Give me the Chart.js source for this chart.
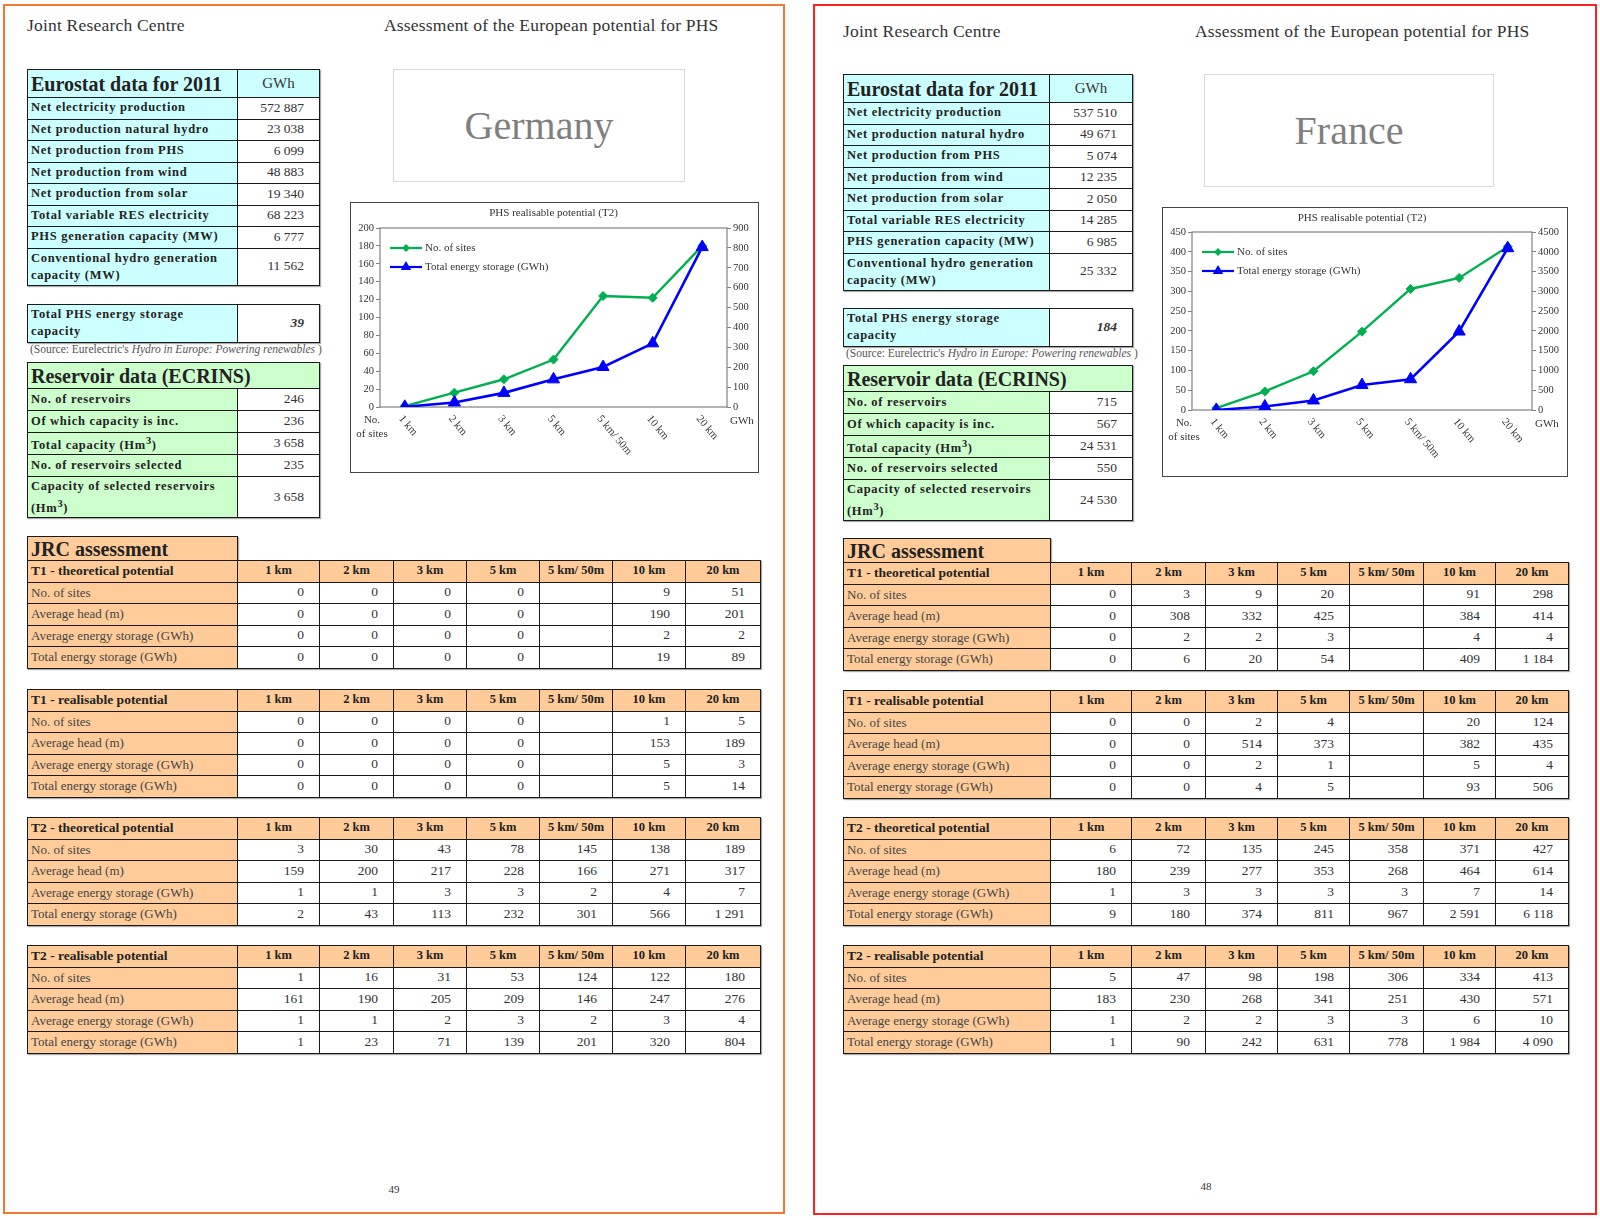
<!DOCTYPE html>
<html lang="en">
<head>
<meta charset="UTF-8">
<title>Assessment of the European potential for PHS - Germany / France</title>
<script src="https://cdn.jsdelivr.net/npm/chart.js@4.4.0/dist/chart.umd.min.js"></script>
<style>
body {
    margin: 0;
    width: 1600px;
    height: 1220px;
    position: relative;
    overflow: hidden;
    background: #fff;
    font-family: "Liberation Serif", "DejaVu Serif", serif;
    color: #222;
}
.frame { position: absolute; box-sizing: border-box; }
.txt { position: absolute; white-space: nowrap; }
.runhead { font-size: 17.5px; color: #333; letter-spacing: 0.2px; }
.pageno { font-size: 11px; color: #333; transform: translateX(-50%); }
.source { font-size: 11.5px; color: #555; }
.country {
    position: absolute; box-sizing: border-box;
    border: 1px solid #d8d8d8;
    display: flex; align-items: center; justify-content: center;
    font-size: 40px; color: #7f7f7f;
}
.chartbox { position: absolute; box-sizing: border-box; border: 1px solid #444; background: #fff; }
.chartbox canvas { display: block; }

table {
    position: absolute;
    border-collapse: collapse;
    table-layout: fixed;
    box-shadow: 1px 1px 1px #aaa;
}
td {
    border: 1.5px solid #1a1a1a;
    padding: 0 3px;
    overflow: hidden;
    white-space: nowrap;
    line-height: 1.1;
}
.cy { background: #ccffff; }
.gr { background: #ccffcc; }
.or { background: #ffcc99; }
.h-euro { font-weight: bold; font-size: 20px; }
.unit { text-align: center; font-size: 15px; color: #333; }
.lab-b { font-weight: bold; font-size: 12.5px; letter-spacing: 0.7px; }
.wrap { white-space: normal; line-height: 17px; vertical-align: top; padding-top: 1px; }
.val { text-align: right; padding-right: 15px; font-size: 13.5px; color: #333; }
.h-big { font-weight: bold; font-size: 20px; }
.lab-hdr { font-weight: bold; font-size: 13.5px; }
.colhdr { font-weight: bold; font-size: 12.5px; text-align: center; padding: 0; }
.lab-n { font-size: 13px; color: #444; }
</style>
</head>
<body>

<script>
// ---- shared labels ----
const kmCats = ['1 km', '2 km', '3 km', '5 km', '5 km/ 50m', '10 km', '20 km'];
const eurostatLabels = [
    'Net electricity production',
    'Net production natural hydro',
    'Net production from PHS',
    'Net production from wind',
    'Net production from solar',
    'Total variable RES electricity',
    'PHS generation capacity (MW)',
    'Conventional hydro generation<br>capacity (MW)'
];
const reservoirLabels = [
    'No. of reservoirs',
    'Of which capacity is inc.',
    'Total capacity (Hm<sup>3</sup>)',
    'No. of reservoirs selected',
    'Capacity of selected reservoirs<br>(Hm<sup>3</sup>)'
];
const jrcTableNames = ['T1 - theoretical potential', 'T1 - realisable potential',
    'T2 - theoretical potential', 'T2 - realisable potential'];
const jrcRowLabels = ['No. of sites', 'Average head (m)',
    'Average energy storage (GWh)', 'Total energy storage (GWh)'];
const seriesNames = ['No. of sites', 'Total energy storage (GWh)'];

// ---- Germany ----
const deEurostat = ['572 887', '23 038', '6 099', '48 883', '19 340', '68 223', '6 777', '11 562'];
const dePhsStorage = '39';
const deReservoir = ['246', '236', '3 658', '235', '3 658'];
const deT1Theo = [
    ['0', '0', '0', '0', '', '9', '51'],
    ['0', '0', '0', '0', '', '190', '201'],
    ['0', '0', '0', '0', '', '2', '2'],
    ['0', '0', '0', '0', '', '19', '89']
];
const deT1Real = [
    ['0', '0', '0', '0', '', '1', '5'],
    ['0', '0', '0', '0', '', '153', '189'],
    ['0', '0', '0', '0', '', '5', '3'],
    ['0', '0', '0', '0', '', '5', '14']
];
const deT2Theo = [
    ['3', '30', '43', '78', '145', '138', '189'],
    ['159', '200', '217', '228', '166', '271', '317'],
    ['1', '1', '3', '3', '2', '4', '7'],
    ['2', '43', '113', '232', '301', '566', '1 291']
];
const deT2Real = [
    ['1', '16', '31', '53', '124', '122', '180'],
    ['161', '190', '205', '209', '146', '247', '276'],
    ['1', '1', '2', '3', '2', '3', '4'],
    ['1', '23', '71', '139', '201', '320', '804']
];
const deSites = [1, 16, 31, 53, 124, 122, 180];
const deStorage = [1, 23, 71, 139, 201, 320, 804];
const deSitesAxis = [0, 200, 20];     // min, max, step
const deStorageAxis = [0, 900, 100];

// ---- France ----
const frEurostat = ['537 510', '49 671', '5 074', '12 235', '2 050', '14 285', '6 985', '25 332'];
const frPhsStorage = '184';
const frReservoir = ['715', '567', '24 531', '550', '24 530'];
const frT1Theo = [
    ['0', '3', '9', '20', '', '91', '298'],
    ['0', '308', '332', '425', '', '384', '414'],
    ['0', '2', '2', '3', '', '4', '4'],
    ['0', '6', '20', '54', '', '409', '1 184']
];
const frT1Real = [
    ['0', '0', '2', '4', '', '20', '124'],
    ['0', '0', '514', '373', '', '382', '435'],
    ['0', '0', '2', '1', '', '5', '4'],
    ['0', '0', '4', '5', '', '93', '506']
];
const frT2Theo = [
    ['6', '72', '135', '245', '358', '371', '427'],
    ['180', '239', '277', '353', '268', '464', '614'],
    ['1', '3', '3', '3', '3', '7', '14'],
    ['9', '180', '374', '811', '967', '2 591', '6 118']
];
const frT2Real = [
    ['5', '47', '98', '198', '306', '334', '413'],
    ['183', '230', '268', '341', '251', '430', '571'],
    ['1', '2', '2', '3', '3', '6', '10'],
    ['1', '90', '242', '631', '778', '1 984', '4 090']
];
const frSites = [5, 47, 98, 198, 306, 334, 413];
const frStorage = [1, 90, 242, 631, 778, 1984, 4090];
const frSitesAxis = [0, 450, 50];
const frStorageAxis = [0, 4500, 500];

// ---- page layouts (pixel positions) ----
const layoutDE = {
    frame: [3, 4, 782, 1210], frameColor: '#f07a34',
    head1: [27, 15], head2: [384, 15],
    euro: [27, 69], euroCols: [210, 82],
    country: [393, 69, 292, 113], countryName: 'Germany',
    chart: [350, 202, 409, 271], plot: { top: 25, left: 29, right: 31, bottom: 65 },
    phs: [27, 304], source: [30, 343], res: [27, 362],
    jrc: [27, 536], jrcCols: [210, 82, 74, 73, 73, 73, 73, 75],
    tableTops: [560, 689, 817, 945],
    pageNo: [394, 1183], pageLabel: '49'
};
const layoutFR = {
    frame: [813, 4, 784, 1211], frameColor: '#ff2020',
    head1: [843, 21], head2: [1195, 21],
    euro: [843, 74], euroCols: [206, 83],
    country: [1204, 74, 290, 113], countryName: 'France',
    chart: [1162, 207, 406, 270], plot: { top: 24, left: 29, right: 35, bottom: 66 },
    phs: [843, 308], source: [846, 347], res: [843, 365],
    jrc: [843, 538], jrcCols: [207, 81, 74, 72, 72, 74, 72, 73],
    tableTops: [562, 690, 817, 945],
    pageNo: [1206, 1180], pageLabel: '48'
};

const GREEN = '#00b050';
const BLUE = '#0000ff';
const SERIF = '"Liberation Serif", "DejaVu Serif", serif';

function place(el, x, y) {
    el.style.left = x + 'px';
    el.style.top = y + 'px';
    document.body.appendChild(el);
    return el;
}

function addText(cls, html, x, y) {
    const d = document.createElement('div');
    d.className = 'txt ' + cls;
    d.innerHTML = html;
    return place(d, x, y);
}

// rows: [{h, cells: [[html, cls, colspan]]}]
function addTable(x, y, cols, rows) {
    const t = document.createElement('table');
    const total = cols.reduce((a, b) => a + b, 0);
    t.style.width = total + 'px';
    let html = '<colgroup>' + cols.map(w => `<col style="width:${w}px">`).join('') + '</colgroup>';
    rows.forEach(r => {
        html += `<tr style="height:${r.h}px">`;
        r.cells.forEach(c => {
            html += `<td class="${c[1]}"${c[2] ? ` colspan="${c[2]}"` : ''}>${c[0]}</td>`;
        });
        html += '</tr>';
    });
    t.innerHTML = html;
    return place(t, x, y);
}

function drawMarker(ctx, style, x, y, r) {
    ctx.beginPath();
    if (style === 'rectRot') {
        ctx.moveTo(x, y - r); ctx.lineTo(x + r, y); ctx.lineTo(x, y + r); ctx.lineTo(x - r, y);
    } else {
        ctx.moveTo(x, y - r); ctx.lineTo(x + r * 0.87, y + r * 0.5); ctx.lineTo(x - r * 0.87, y + r * 0.5);
    }
    ctx.closePath();
    ctx.fill();
}

// frame, title, rotated category labels, axis captions and the inside legend
const decorPlugin = {
    id: 'decor',
    beforeDatasetsDraw(chart) {
        const ca = chart.chartArea, ctx = chart.ctx;
        ctx.save();
        ctx.strokeStyle = '#808080';
        ctx.lineWidth = 1.2;
        ctx.strokeRect(ca.left, ca.top, ca.right - ca.left, ca.bottom - ca.top);
        ctx.restore();
    },
    afterDraw(chart) {
        const ca = chart.chartArea, ctx = chart.ctx, xs = chart.scales.x;
        ctx.save();
        ctx.fillStyle = '#333';
        ctx.font = '11px ' + SERIF;
        // title
        ctx.textAlign = 'center';
        ctx.textBaseline = 'middle';
        ctx.fillText('PHS realisable potential (T2)', (ca.left + ca.right) / 2, 10);
        // axis captions
        ctx.fillText('No.', ca.left - 8, ca.bottom + 13);
        ctx.fillText('of sites', ca.left - 8, ca.bottom + 27);
        ctx.textAlign = 'left';
        ctx.fillText('GWh', ca.right + 3, ca.bottom + 14);
        // category labels, rotated clockwise
        chart.data.labels.forEach((lab, i) => {
            const x = xs.getPixelForValue(i);
            ctx.save();
            ctx.translate(x - 4, ca.bottom + 10);
            ctx.rotate(50 * Math.PI / 180);
            ctx.textAlign = 'left';
            ctx.textBaseline = 'middle';
            ctx.fillText(lab, 0, 0);
            ctx.restore();
        });
        // legend
        chart.data.datasets.forEach((ds, i) => {
            const y = ca.top + 20 + i * 19;
            const x0 = ca.left + 10, x1 = ca.left + 42;
            ctx.strokeStyle = ds.borderColor;
            ctx.fillStyle = ds.borderColor;
            ctx.lineWidth = 2.2;
            ctx.beginPath(); ctx.moveTo(x0, y); ctx.lineTo(x1, y); ctx.stroke();
            drawMarker(ctx, ds.pointStyle, (x0 + x1) / 2, y, ds.pointStyle === 'triangle' ? 6 : 4);
            ctx.fillStyle = '#333';
            ctx.textAlign = 'left';
            ctx.textBaseline = 'middle';
            ctx.fillText(ds.label, x1 + 3, y);
        });
        ctx.restore();
    }
};

function axisOptions(pos, axis, width) {
    return {
        position: pos,
        min: axis[0],
        max: axis[1],
        ticks: {
            stepSize: axis[2], color: '#333', padding: 2,
            font: { family: SERIF, size: 10.5 },
            callback: v => String(v)
        },
        grid: { drawOnChartArea: false, drawTicks: true, tickLength: 4, color: '#808080' },
        border: { display: false },
        afterFit(s) { s.width = width; }
    };
}

function addChart(L, sites, storage, sitesAxis, storageAxis) {
    const box = document.createElement('div');
    box.className = 'chartbox';
    box.style.width = L.chart[2] + 'px';
    box.style.height = L.chart[3] + 'px';
    place(box, L.chart[0], L.chart[1]);
    const cv = document.createElement('canvas');
    cv.width = L.chart[2] - 2;
    cv.height = L.chart[3] - 2;
    box.appendChild(cv);

    new Chart(cv.getContext('2d'), {
        type: 'line',
        data: {
            labels: kmCats,
            datasets: [{
                label: seriesNames[0],
                data: sites,
                yAxisID: 'y',
                borderColor: GREEN,
                backgroundColor: GREEN,
                borderWidth: 2.4,
                pointStyle: 'rectRot',
                pointRadius: 4.5,
                pointBorderWidth: 1,
                tension: 0,
                order: 1
            }, {
                label: seriesNames[1],
                data: storage,
                yAxisID: 'y2',
                borderColor: BLUE,
                backgroundColor: BLUE,
                borderWidth: 2.6,
                pointStyle: 'triangle',
                pointRadius: 7,
                pointBorderWidth: 1,
                tension: 0,
                order: 0
            }]
        },
        options: {
            responsive: false,
            animation: false,
            layout: { padding: { top: L.plot.top } },
            plugins: { legend: { display: false }, tooltip: { enabled: false }, title: { display: false } },
            scales: {
                x: {
                    offset: true,
                    grid: { display: false },
                    border: { display: false },
                    ticks: { display: false },
                    afterFit(s) { s.height = L.plot.bottom; }
                },
                y: axisOptions('left', sitesAxis, L.plot.left),
                y2: axisOptions('right', storageAxis, L.plot.right)
            }
        },
        plugins: [decorPlugin]
    });
}

function buildPage(L, euroVals, phsVal, resVals, jrcData, sites, storage, sitesAxis, storageAxis) {
    const fr = document.createElement('div');
    fr.className = 'frame';
    fr.style.width = L.frame[2] + 'px';
    fr.style.height = L.frame[3] + 'px';
    fr.style.border = '2px solid ' + L.frameColor;
    place(fr, L.frame[0], L.frame[1]);

    addText('runhead', 'Joint Research Centre', L.head1[0], L.head1[1]);
    addText('runhead', 'Assessment of the European potential for PHS', L.head2[0], L.head2[1]);

    // Eurostat block
    const euroRows = [{ h: 28, cells: [['Eurostat data for 2011', 'cy h-euro'], ['GWh', 'cy unit']] }];
    eurostatLabels.forEach((lab, i) => {
        const last = i === eurostatLabels.length - 1;
        euroRows.push({ h: last ? 37 : 21.5, cells: [[lab, 'cy lab-b' + (last ? ' wrap' : '')], [euroVals[i], 'val']] });
    });
    addTable(L.euro[0], L.euro[1], L.euroCols, euroRows);

    // country name box
    const c = document.createElement('div');
    c.className = 'country';
    c.style.width = L.country[2] + 'px';
    c.style.height = L.country[3] + 'px';
    c.textContent = L.countryName;
    place(c, L.country[0], L.country[1]);

    addTable(L.phs[0], L.phs[1], L.euroCols, [{ h: 38, cells: [
        ['Total PHS energy storage<br>capacity', 'cy lab-b wrap'],
        ['<b><i>' + phsVal + '</i></b>', 'val']
    ] }]);
    addText('source', "(Source: Eurelectric's <i>Hydro in Europe: Powering renewables</i> )", L.source[0], L.source[1]);

    const resRows = [{ h: 26, cells: [['Reservoir data (ECRINS)', 'gr h-big', 2]] }];
    reservoirLabels.forEach((lab, i) => {
        const last = i === reservoirLabels.length - 1;
        resRows.push({ h: last ? 39 : 22, cells: [[lab, 'gr lab-b' + (last ? ' wrap' : '')], [resVals[i], 'val']] });
    });
    addTable(L.res[0], L.res[1], L.euroCols, resRows);

    // JRC assessment
    addTable(L.jrc[0], L.jrc[1], [L.jrcCols[0]], [{ h: 24, cells: [['JRC assessment', 'or h-big']] }]);
    jrcData.forEach((tbl, k) => {
        const rows = [{ h: 21.5, cells: [[jrcTableNames[k], 'or lab-hdr']].concat(kmCats.map(s => [s, 'or colhdr'])) }];
        tbl.forEach((vals, r) => {
            rows.push({ h: 21.5, cells: [[jrcRowLabels[r], 'or lab-n']].concat(vals.map(v => [v, 'val'])) });
        });
        addTable(L.jrc[0], L.tableTops[k], L.jrcCols, rows);
    });

    addChart(L, sites, storage, sitesAxis, storageAxis);
    addText('pageno', L.pageLabel, L.pageNo[0], L.pageNo[1]);
}

buildPage(layoutDE, deEurostat, dePhsStorage, deReservoir,
    [deT1Theo, deT1Real, deT2Theo, deT2Real], deSites, deStorage, deSitesAxis, deStorageAxis);
buildPage(layoutFR, frEurostat, frPhsStorage, frReservoir,
    [frT1Theo, frT1Real, frT2Theo, frT2Real], frSites, frStorage, frSitesAxis, frStorageAxis);
</script>
</body>
</html>
